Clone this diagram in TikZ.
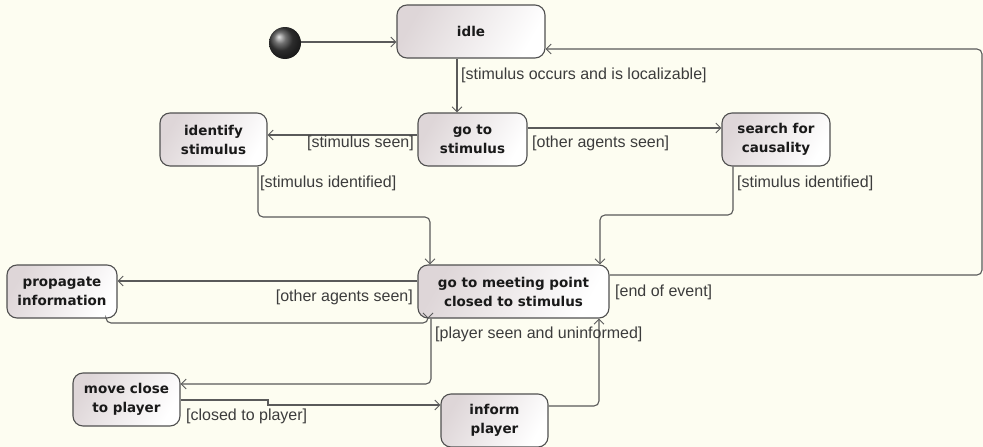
\documentclass[tikz,border=0pt]{standalone}
\usepackage{fontspec}
\setmainfont{Liberation Sans}
\newfontfamily\nodefont{DejaVu Sans}
\usetikzlibrary{arrows.meta,shapes.geometric}
\definecolor{bgcol}{RGB}{253,253,241}
\definecolor{edgecol}{RGB}{90,90,90}
\definecolor{boxcol}{RGB}{80,80,80}
\definecolor{shadecol}{RGB}{222,214,216}
\definecolor{labcol}{RGB}{60,60,60}
\tikzset{
  state/.style={draw=boxcol, line width=1.1pt, rounded corners=10pt,
    left color=shadecol, right color=white, shading angle=60,
    minimum height=53pt, inner sep=2pt, align=center,
    font=\nodefont\bfseries\fontsize{13.5}{19}\selectfont, text=black!90},
  conn/.style={draw=edgecol, line width=1.1pt, rounded corners=5pt},
  arr/.style={conn, -{Straight Barb[length=5pt,width=10pt,line width=0.9pt]}},
  lab/.style={inner sep=0pt, text=labcol, font=\fontsize{16}{18}\selectfont},
}
\begin{document}
\begin{tikzpicture}[x=1pt,y=-1pt]
\useasboundingbox (0,0) rectangle (983,447);
\fill[bgcol] (0,0) rectangle (983,447);

% initial state
\shade[ball color=black!75] (285,43) circle (16);
\node[circle, minimum size=32pt, inner sep=0pt] (initn) at (285,43) {};

% states
\node[state, minimum width=148pt] (idle) at (471,31.5) {idle};
\node[state, minimum width=109pt] (gostim) at (472.5,139.5) {go to\\stimulus};
\node[state, minimum width=107pt] (ident) at (213.5,139.5) {identify\\stimulus};
\node[state, minimum width=108pt] (search) at (776,139.5) {search for\\causality};
\node[state, minimum width=191pt] (meet) at (513.5,291.5) {go to meeting point\\closed to stimulus};
\node[state, minimum width=110pt] (prop) at (62,291.5) {propagate\\information};
\node[state, minimum width=107pt] (move) at (126.5,399.5) {move close\\to player};
\node[state, minimum width=107pt] (inform) at (494.5,420.5) {inform\\player};

% connectors
\draw[arr] (initn.east |- 0,42) -- (idle.west |- 0,42);
\draw[arr] (idle.south -| 457,0) -- (gostim.north -| 457,0);
\draw[arr] (gostim.west |- 0,135) -- (ident.east |- 0,135);
\draw[arr] (gostim.east |- 0,128) -- (search.west |- 0,128);
\draw[arr] (ident.south -| 258,0) -- (258,217) -- (430,217) -- (meet.north -| 430,0);
\draw[arr] (search.south -| 733,0) -- (733,215) -- (600,215) -- (meet.north -| 600,0);
\draw[arr] (meet.west |- 0,281) -- (prop.east |- 0,281);
\draw[arr] (prop.south -| 106,0) -- (106,323) -- (428,323) -- (meet.south -| 428,0);
\draw[arr] (meet.south -| 431,0) -- (431,384) -- (move.east |- 0,384);
\draw[arr, rounded corners=0pt] (move.east |- 0,400) -- (268,400) -- (268,405) -- (inform.west |- 0,405);
\draw[arr] (inform.east |- 0,406) -- (599,406) -- (meet.south -| 599,0);
\draw[arr] (meet.east |- 0,275) -- (982,275) -- (982,49) -- (idle.east |- 0,49);

% labels
\node[lab, anchor=west] (l1) at (461,75) {[stimulus occurs and is localizable]};
\node[lab, anchor=east] (l2) at (414,143) {[stimulus seen]};
\node[lab, anchor=west] (l3) at (532,143) {[other agents seen]};
\node[lab, anchor=west] (l4) at (260,183) {[stimulus identified]};
\node[lab, anchor=west] (l5) at (737,183) {[stimulus identified]};
\node[lab, anchor=east] (l6) at (413,297) {[other agents seen]};
\node[lab, anchor=west] (l7) at (615,292) {[end of event]};
\node[lab, anchor=west] (l8) at (435,334) {[player seen and uninformed]};
\node[lab, anchor=west] (l9) at (186,416) {[closed to player]};
\end{tikzpicture}
\end{document}
